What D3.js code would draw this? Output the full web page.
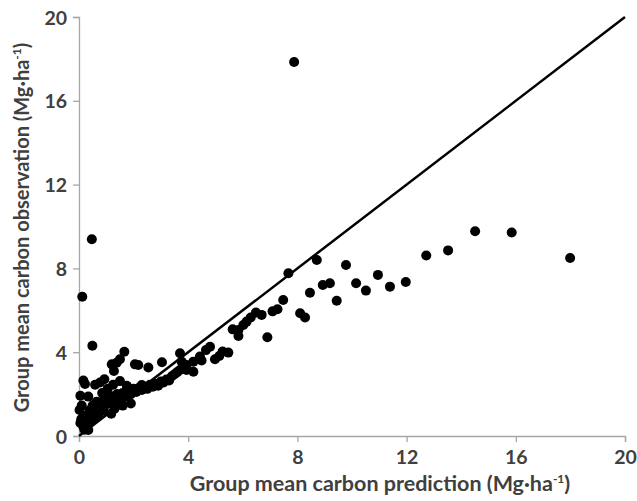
<!DOCTYPE html>
<html lang="en">
<head>
  <meta charset="UTF-8">
  <title>Group mean carbon prediction vs observation</title>
  <style>
    body { margin: 0; background: #fff; }
    .tick text { font-family: Lato, sans-serif; font-weight: bold; font-size: 19.5px; fill: #404040; }
    .title { font-family: Lato, sans-serif; font-weight: bold; fill: #404040; }
  </style>
</head>
<body>
  <svg width="637" height="501"></svg>
  <script src="https://cdn.jsdelivr.net/npm/d3@7"></script>
  <script>
    // predicted (x) and observed (y) group means, Mg/ha
    var predicted = [
      7.88, 0.47, 0.12, 0.49, 1.66, 1.50, 1.20, 1.38, 1.28, 2.05, 2.17, 2.54, 3.04, 3.70,
      0.16, 0.22, 0.59, 0.77, 0.93, 1.50, 1.25, 2.30,
      0.05, 0.34, 0.65, 0.40, 0.02, 1.18, 0.16, 0.05, 0.16, 0.34, 0.08, 0.25, 0.30, 0.10, 0.45, 0.20,
      0.50, 0.60, 0.70, 0.80, 0.90, 1.00, 1.00, 1.10, 1.20, 1.30, 1.40, 1.50, 1.60, 1.70, 1.80, 1.90,
      2.00, 2.10, 2.20, 2.30, 2.40, 2.50, 2.60, 2.70, 2.80, 2.90, 3.00, 3.10, 3.20, 3.30, 3.40, 3.50,
      3.60, 3.70, 3.80, 0.70, 0.90, 1.30, 0.55, 1.60, 1.90, 0.85, 1.05, 1.75,
      3.76, 3.94, 3.94, 4.19, 4.19, 4.43, 4.49, 4.65, 4.80, 4.98, 5.14, 5.26, 5.47, 5.63, 5.84, 5.84,
      6.02, 6.14, 6.29, 6.48, 6.69, 6.90, 7.09, 7.27, 7.48, 7.67, 8.10, 8.28, 8.46, 8.71, 8.93, 9.19,
      9.44, 9.78, 10.15, 10.51, 10.95, 11.39, 11.97, 12.72, 13.52, 14.51, 15.85, 17.99
    ];
    var observed = [
      17.85, 9.39, 6.65, 4.31, 4.02, 3.66, 3.42, 3.50, 3.10, 3.42, 3.39, 3.27, 3.52, 3.95,
      2.65, 2.48, 2.45, 2.55, 2.71, 2.62, 2.45, 2.43,
      1.92, 1.88, 1.64, 1.24, 1.24, 1.06, 0.92, 0.62, 0.44, 0.29, 0.80, 0.55, 1.00, 1.45, 0.70, 0.30,
      1.45, 1.20, 1.55, 1.35, 1.70, 1.50, 1.85, 1.60, 1.90, 1.65, 2.00, 1.80, 2.05, 1.90, 2.15, 2.00,
      2.25, 2.10, 2.30, 2.20, 2.35, 2.25, 2.45, 2.35, 2.50, 2.40, 2.60, 2.55, 2.70, 2.65, 2.85, 2.95,
      3.05, 3.15, 3.25, 1.00, 1.20, 1.30, 0.85, 1.45, 1.55, 2.05, 2.25, 2.40,
      3.55, 3.39, 3.15, 3.55, 3.07, 3.79, 3.60, 4.10, 4.26, 3.66, 3.82, 4.03, 3.98, 5.09, 5.06, 4.77,
      5.30, 5.46, 5.66, 5.89, 5.78, 4.71, 5.95, 6.05, 6.49, 7.77, 5.86, 5.66, 6.84, 8.40, 7.21, 7.29,
      6.46, 8.16, 7.29, 6.94, 7.69, 7.13, 7.35, 8.62, 8.86, 9.77, 9.71, 8.50
    ];
    var xTicks = [0, 4, 8, 12, 16, 20];
    var yTicks = [0, 4, 8, 12, 16, 20];
    var oneToOne = [0, 20];

    var svg = d3.select("svg");
    var margin = {top: 17, left: 79, right: 12, bottom: 65};
    var w = 637 - margin.left - margin.right;
    var h = 501 - margin.top - margin.bottom;
    var g = svg.append("g").attr("transform", "translate(" + margin.left + "," + margin.top + ")");

    var x = d3.scaleLinear().domain([0, 20]).range([0, w]);
    var y = d3.scaleLinear().domain([0, 20]).range([h, 0]);

    var xAxis = g.append("g")
      .attr("transform", "translate(0," + h + ")")
      .call(d3.axisBottom(x).tickValues(xTicks).tickSize(6).tickPadding(8));
    var yAxis = g.append("g")
      .call(d3.axisLeft(y).tickValues(yTicks).tickSize(6).tickPadding(6));
    g.selectAll(".domain, .tick line").attr("stroke", "#a6a6a6").attr("stroke-width", 1.3);
    yAxis.selectAll(".tick text").attr("dy", "0.36em");

    // 1:1 line
    g.append("line")
      .attr("x1", x(oneToOne[0])).attr("y1", y(oneToOne[0]))
      .attr("x2", x(oneToOne[1])).attr("y2", y(oneToOne[1]))
      .attr("stroke", "#000").attr("stroke-width", 2.5);

    g.selectAll("circle")
      .data(predicted.map(function (d, i) { return [d, observed[i]]; }))
      .enter()
      .append("circle")
      .attr("cx", function (d) { return x(d[0]); })
      .attr("cy", function (d) { return y(d[1]); })
      .attr("r", 5)
      .attr("fill", "#000");

    svg.append("text")
      .attr("class", "title")
      .attr("x", 380)
      .attr("y", 491)
      .attr("text-anchor", "middle")
      .style("font-size", "21.5px")
      .html('Group mean carbon prediction (Mg·ha<tspan dy="-8" font-size="12px">-1</tspan><tspan dy="8">)</tspan>');

    svg.append("text")
      .attr("class", "title")
      .attr("transform", "translate(29," + (margin.top + h / 2 + 1) + ") rotate(-90)")
      .attr("text-anchor", "middle")
      .style("font-size", "20px")
      .html('Group mean carbon observation (Mg·ha<tspan dy="-8" font-size="12px">-1</tspan><tspan dy="8">)</tspan>');
  </script>
</body>
</html>
